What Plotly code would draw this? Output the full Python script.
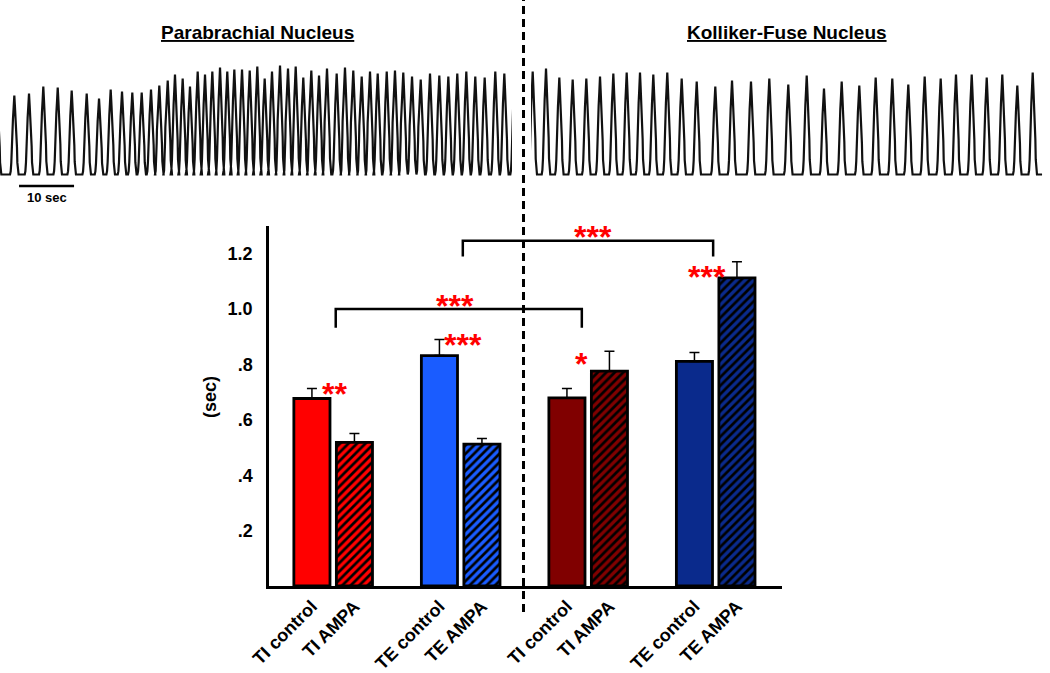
import plotly.graph_objects as go

# ---------------- data ----------------
bar_labels = ["TI control", "TI AMPA", "TE control", "TE AMPA",
              "TI control", "TI AMPA", "TE control", "TE AMPA"]
bar_pos = [0, 1, 3, 4, 6, 7, 9, 10]
bar_values = [0.677, 0.519, 0.832, 0.512, 0.679, 0.776, 0.811, 1.113]
bar_err_top = [0.713, 0.551, 0.890, 0.533, 0.713, 0.848, 0.843, 1.171]
bar_colors = ["#ff0000", "#ff0000", "#1a5cff", "#1a5cff",
              "#800000", "#800000", "#0a2a8c", "#0a2a8c"]
bar_hatch = ["", "/", "", "/", "", "/", "", "/"]

y_tickvals = [0.2, 0.4, 0.6, 0.8, 1.0, 1.2]
y_ticktext = [".2", ".4", ".6", ".8", "1.0", "1.2"]

star_text = ["***", "***", "**", "***", "*", "***"]
star_x = [3.36, 6.61, 0.54, 3.55, 6.35, 9.29]
star_y = [1.046, 1.295, 0.728, 0.908, 0.836, 1.151]

bracket_left = [0.56, 3.55]
bracket_right = [6.35, 9.44]
bracket_top = [1.0, 1.247]
bracket_foot = [0.933, 1.19]

# respiratory traces: burst peak times (s) and amplitudes (a.u.)
left_peak_t = [-0.9, 2.24, 4.91, 7.51, 10.13, 12.67, 15.4, 17.64, 19.76, 21.82, 23.69,
               25.4, 27.09, 28.6, 30.13, 31.45, 32.85, 34.18, 35.58, 36.91, 38.24,
               39.64, 40.96, 42.24, 43.64, 45.04, 46.42, 47.76, 49.09, 50.55, 52.0,
               53.4, 54.78, 56.24, 57.64, 59.09, 60.85, 62.36, 63.87, 65.4, 66.91,
               68.31, 69.95, 71.45, 72.96, 74.55, 76.13, 77.82, 79.51, 81.15, 82.78,
               84.42, 86.05, 87.76, 89.69, 91.33, 93.2]
left_peak_amp = [0.8, 0.79, 0.81, 0.88, 0.87, 0.84, 0.81, 0.76, 0.85, 0.83, 0.82,
                 0.82, 0.85, 0.89, 0.94, 1.00, 0.96, 0.88, 1.03, 1.00, 1.03,
                 1.07, 1.03, 1.05, 1.05, 1.04, 1.08, 0.96, 1.03, 1.09, 1.06,
                 1.08, 0.97, 1.04, 0.99, 1.06, 1.01, 1.07, 1.04, 0.98, 1.03,
                 1.01, 1.03, 1.04, 1.02, 0.98, 0.95, 1.01, 0.99, 0.98, 1.01,
                 1.03, 0.98, 0.97, 1.03, 1.01, 1.0]
left_t_end = 92.8

right_peak_t = [0.49, 2.91, 5.33, 7.76, 10.24, 12.73, 15.15, 17.58, 20.0, 22.42,
                24.96, 27.58, 30.31, 33.69, 36.73, 40.18, 43.51, 46.96, 50.31,
                53.45, 56.67, 59.87, 62.85, 65.87, 68.78, 71.76, 74.67, 77.45,
                80.31, 83.04, 85.87, 88.6, 91.4]
right_peak_amp = [1.03, 1.06, 0.97, 0.95, 0.96, 0.98, 1.01, 1.02, 1.02, 1.00,
                  1.02, 0.96, 0.93, 0.88, 0.94, 0.93, 0.96, 0.90, 0.99, 0.86,
                  0.93, 0.89, 0.97, 0.96, 0.90, 0.98, 0.96, 1.00, 1.00, 0.97,
                  1.00, 0.89, 1.02]
right_t_end = 93.1

scale_bar_sec = 10

# ---------------- style ----------------
W, H = 1050, 673
FONT = "Arial, Liberation Sans, sans-serif"
TPL_DX = [-0.78, -0.66, -0.55, -0.48, -0.43, -0.25, -0.12, 0,
          0.12, 0.25, 0.43, 0.48, 0.55, 0.66, 0.78]
TPL_FY = [0, 0.04, 0.15, 0.35, 0.5, 0.7, 0.85, 1,
          0.85, 0.7, 0.5, 0.35, 0.15, 0.04, 0]


def px_x(p):
    return p / W


def px_y(p):
    return 1 - p / H


def burst_line(peaks_t, peaks_a, t_end):
    xs, ys = [], []
    for t, a in zip(peaks_t, peaks_a):
        for dx, fy in zip(TPL_DX, TPL_FY):
            xs.append(t + dx)
            ys.append(a * fy)
    xs.append(t_end)
    ys.append(0)
    return xs, ys


fig = go.Figure()

# bars: one trace per bar so that every hatch keeps its own colours
for pos, val, top, col, hatch in zip(bar_pos, bar_values, bar_err_top, bar_colors, bar_hatch):
    fig.add_trace(go.Bar(
        x=[pos], y=[val], width=0.85,
        marker=dict(color=col, line=dict(color="black", width=2.8),
                    pattern=dict(shape=hatch, fillmode="replace", bgcolor=col,
                                 fgcolor="#000000", fgopacity=1, size=6, solidity=0.45)),
        error_y=dict(type="data", symmetric=False, array=[top - val], arrayminus=[0],
                     color="black", thickness=1.5, width=5),
        xaxis="x", yaxis="y", showlegend=False, hoverinfo="skip"))

# traces
lx, ly = burst_line(left_peak_t, left_peak_amp, left_t_end)
fig.add_trace(go.Scatter(x=lx, y=ly, mode="lines", line=dict(color="#111111", width=2.2),
                         xaxis="x2", yaxis="y2", showlegend=False, hoverinfo="skip"))
rx, ry = burst_line(right_peak_t, right_peak_amp, right_t_end)
fig.add_trace(go.Scatter(x=rx, y=ry, mode="lines", line=dict(color="#111111", width=2.2),
                         xaxis="x3", yaxis="y3", showlegend=False, hoverinfo="skip"))

shapes = []
# brackets
for l, r, top, foot in zip(bracket_left, bracket_right, bracket_top, bracket_foot):
    shapes.append(dict(type="path", xref="x", yref="y",
                       path=f"M {l},{foot} L {l},{top} L {r},{top} L {r},{foot}",
                       line=dict(color="black", width=2.5)))
# divider
shapes.append(dict(type="line", xref="paper", yref="paper",
                   x0=px_x(523.5), x1=px_x(523.5), y0=px_y(612), y1=1,
                   line=dict(color="black", width=3, dash="8px,5px")))
# scale bar
shapes.append(dict(type="line", xref="x2", yref="y2", x0=3.1, x1=3.1 + scale_bar_sec,
                   y0=-0.115, y1=-0.115, line=dict(color="black", width=2.5)))

annotations = []
for t, x, y in zip(star_text, star_x, star_y):
    annotations.append(dict(x=x, y=y, xref="x", yref="y", text=f"<b>{t}</b>",
                            showarrow=False, yshift=-10, xanchor="center", yanchor="middle",
                            font=dict(family=FONT, size=32, color="#ff0000")))
annotations.append(dict(x=3.1 + scale_bar_sec / 2, y=-0.23, xref="x2", yref="y2",
                        text=f"<b>{scale_bar_sec} sec</b>", showarrow=False,
                        xanchor="center", yanchor="middle",
                        font=dict(family=FONT, size=13, color="black")))
annotations.append(dict(x=px_x(257), y=px_y(32), xref="paper", yref="paper",
                        text="<b><u>Parabrachial Nucleus</u></b>", showarrow=False,
                        xanchor="center", yanchor="middle",
                        font=dict(family=FONT, size=19, color="black")))
annotations.append(dict(x=px_x(787), y=px_y(32), xref="paper", yref="paper",
                        text="<b><u>Kolliker-Fuse Nucleus</u></b>", showarrow=False,
                        xanchor="center", yanchor="middle",
                        font=dict(family=FONT, size=19, color="black")))
annotations.append(dict(x=px_x(210), y=px_y(397), xref="paper", yref="paper",
                        text="<b>(sec)</b>", textangle=-90, showarrow=False,
                        xanchor="center", yanchor="middle",
                        font=dict(family=FONT, size=18, color="black")))

hidden = dict(visible=False, showgrid=False, zeroline=False, automargin=False)

fig.update_layout(
    template="none", barmode="overlay",
    width=W, height=H, margin=dict(l=0, r=0, t=0, b=0, pad=0, autoexpand=False),
    paper_bgcolor="white", plot_bgcolor="rgba(0,0,0,0)",
    font=dict(family=FONT, color="black"),
    xaxis=dict(domain=[px_x(269), px_x(782)], range=[-1.01, 11.06],
               showline=True, linecolor="black", linewidth=2.5, ticks="",
               showgrid=False, zeroline=False, tickvals=bar_pos, ticktext=bar_labels,
               tickangle=-45, tickfont=dict(family=FONT, size=18, weight="bold"),
               ticklabelstandoff=0, anchor="y", automargin=False),
    yaxis=dict(domain=[px_y(586), px_y(226)], range=[0, 1.3],
               showline=True, linecolor="black", linewidth=2.5, ticks="",
               showgrid=False, zeroline=False, tickvals=y_tickvals, ticktext=y_ticktext,
               tickfont=dict(family=FONT, size=18, weight="bold"),
               ticklabelstandoff=10, anchor="x", automargin=False),
    xaxis2=dict(domain=[0, px_x(512)], range=[-2 / 5.5, 510 / 5.5], anchor="y2", **hidden),
    yaxis2=dict(domain=[px_y(205), px_y(45)], range=[-0.305, 1.295], anchor="x2", **hidden),
    xaxis3=dict(domain=[px_x(531), 1], range=[1 / 5.5, 520 / 5.5], anchor="y3", **hidden),
    yaxis3=dict(domain=[px_y(205), px_y(45)], range=[-0.305, 1.295], anchor="x3", **hidden),
    shapes=shapes, annotations=annotations,
)

fig.write_html("out.html", config={"displayModeBar": False},
               post_script="document.body.style.margin='0';")
